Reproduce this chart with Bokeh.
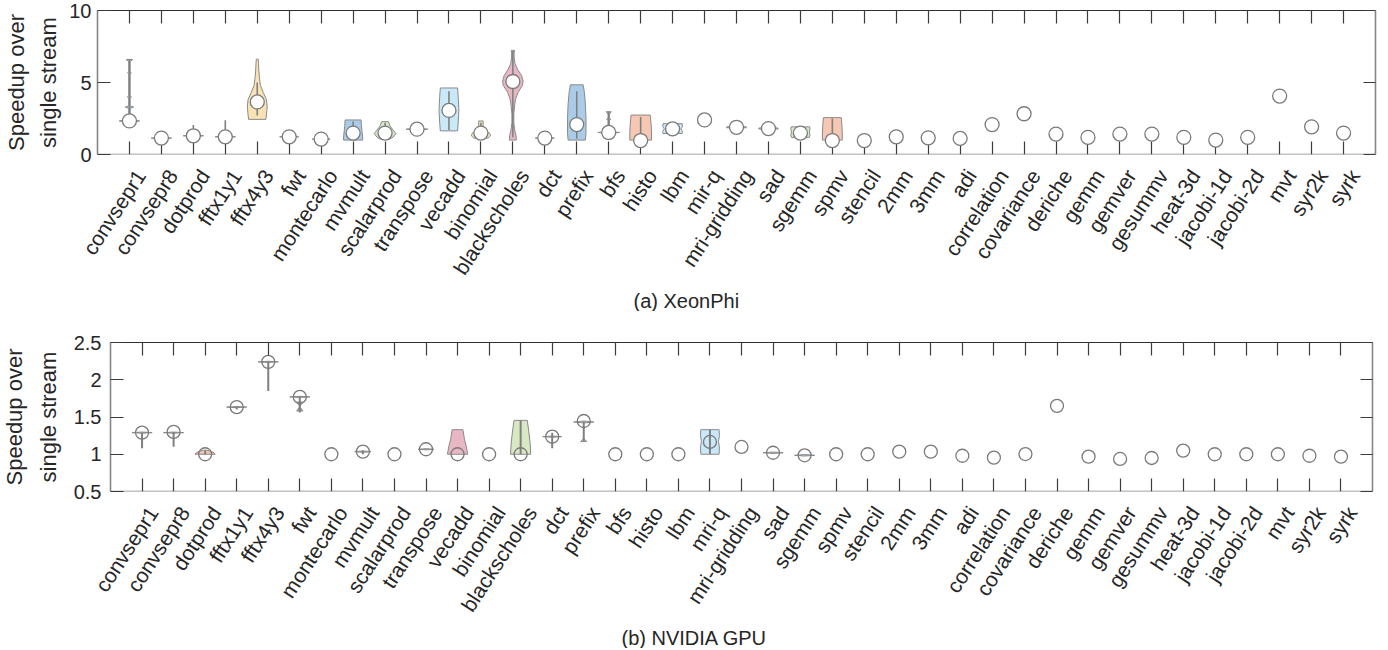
import math
from bokeh.plotting import figure
from bokeh.models import Range1d, FixedTicker, LinearAxis, Title, ColumnDataSource, AllLabels
from bokeh.embed import file_html
from bokeh.resources import INLINE

FONT = "Liberation Sans"

# ---------------- categories ----------------
CATS_A = ["convsepr1", "convsepr8", "dotprod", "fftx1y1", "fftx4y3", "fwt", "montecarlo",
          "mvmult", "scalarprod", "transpose", "vecadd", "binomial", "blackscholes", "dct",
          "prefix", "bfs", "histo", "lbm", "mir-q", "mri-gridding", "sad", "sgemm", "spmv",
          "stencil", "2mm", "3mm", "adi", "correlation", "covariance", "deriche", "gemm",
          "gemver", "gesummv", "heat-3d", "jacobi-1d", "jacobi-2d", "mvt", "syr2k", "syrk"]
CATS_B = ["convsepr1", "convsepr8", "dotprod", "fftx1y1", "fftx4y3", "fwt", "montecarlo",
          "mvmult", "scalarprod", "transpose", "vecadd", "binomial", "blackscholes", "dct",
          "prefix", "bfs", "histo", "lbm", "mri-q", "mri-gridding", "sad", "sgemm", "spmv",
          "stencil", "2mm", "3mm", "adi", "correlation", "covariance", "deriche", "gemm",
          "gemver", "gesummv", "heat-3d", "jacobi-1d", "jacobi-2d", "mvt", "syr2k", "syrk"]

# ---------------- medians (circles) ----------------
MEDIAN_A = [2.33, 1.14, 1.30, 1.23, 3.65, 1.23, 1.07, 1.49, 1.49, 1.76, 3.06, 1.49, 5.07,
            1.14, 2.08, 1.53, 0.97, 1.78, 2.40, 1.89, 1.80, 1.49, 0.97, 0.97, 1.23, 1.16,
            1.12, 2.08, 2.83, 1.42, 1.19, 1.42, 1.42, 1.19, 1.00, 1.19, 4.06, 1.92, 1.49]
MEDIAN_B = [1.29, 1.30, 1.00, 1.633, 2.24, 1.77, 1.00, 1.035, 1.00, 1.067, 1.00, 1.00, 1.00,
            1.236, 1.446, 1.00, 1.00, 1.00, 1.165, 1.098, 1.02, 0.986, 1.00, 1.00, 1.035,
            1.035, 0.98, 0.954, 1.003, 1.65, 0.968, 0.937, 0.95, 1.048, 1.00, 1.00, 1.00,
            0.98, 0.968]

YTICKS_A = [0, 5, 10]
YTICK_LABELS_A = ["0", "5", "10"]
YTICKS_B = [0.5, 1, 1.5, 2, 2.5]
YTICK_LABELS_B = ["0.5", "1", "1.5", "2", "2.5"]
YLABEL_LINES = ["Speedup over", "single stream"]

# ---------------- colours ----------------
BLUE = "#abcce9"
CYAN = "#c9e8f8"
YELLOW = "#f9e3b4"
PINK = "#e9b7c3"
SALMON = "#f6c7b3"
GREEN = "#d7e8c3"
VIOLET = "#dcbde2"
GREY = "#b5b5b5"

# ---------------- violin profiles, panel (a): y levels and half widths ----------------
A_CONVSEPR1_Y = [2.22, 2.33, 2.44, 2.7, 3.2, 3.29, 3.38, 3.9, 4.0, 4.1, 5.6, 5.68, 5.76, 6.45, 6.6]
A_CONVSEPR1_W = [0.0, 0.32, 0.0, 0.02, 0.02, 0.13, 0.02, 0.02, 0.06, 0.02, 0.02, 0.06, 0.02, 0.02, 0.1]
A_CONVSEPR8_Y = [1.09, 1.14, 1.19]
A_CONVSEPR8_W = [0.0, 0.32, 0.0]
A_DOTPROD_Y = [1.20, 1.30, 1.40]
A_DOTPROD_W = [0.0, 0.32, 0.0]
A_FFTX1Y1_Y = [1.14, 1.23, 1.32]
A_FFTX1Y1_W = [0.0, 0.32, 0.0]
A_FFTX4Y3_Y = [2.44, 2.8, 3.3, 3.8, 4.3, 4.8, 5.3, 5.8, 6.3, 6.62]
A_FFTX4Y3_W = [0.27, 0.29, 0.31, 0.29, 0.19, 0.10, 0.07, 0.05, 0.04, 0.03]
A_FWT_Y = [1.18, 1.23, 1.28]
A_FWT_W = [0.0, 0.30, 0.0]
A_MONTECARLO_Y = [1.02, 1.07, 1.12]
A_MONTECARLO_W = [0.0, 0.28, 0.0]
A_MVMULT_Y = [1.0, 1.2, 1.6, 2.0, 2.4]
A_MVMULT_W = [0.30, 0.30, 0.28, 0.26, 0.25]
A_SCALARPROD_Y = [1.07, 1.2, 1.45, 1.7, 2.0, 2.28]
A_SCALARPROD_W = [0.15, 0.25, 0.34, 0.25, 0.15, 0.11]
A_TRANSPOSE_Y = [1.68, 1.76, 1.84]
A_TRANSPOSE_W = [0.0, 0.34, 0.0]
A_VECADD_Y = [1.64, 2.2, 3.1, 4.0, 4.62]
A_VECADD_W = [0.27, 0.29, 0.31, 0.29, 0.27]
A_BINOMIAL_Y = [1.14, 1.3, 1.45, 1.7, 1.87, 2.0, 2.33]
A_BINOMIAL_W = [0.22, 0.30, 0.28, 0.15, 0.08, 0.07, 0.07]
A_BLACKSCHOLES_Y = [1.0, 1.3, 1.7, 2.2, 2.8, 3.3, 3.8, 4.3, 4.8, 5.1, 5.5, 5.9, 6.3, 6.7, 7.0, 7.23]
A_BLACKSCHOLES_W = [0.11, 0.10, 0.06, 0.03, 0.03, 0.05, 0.08, 0.16, 0.30, 0.32, 0.27, 0.15, 0.07, 0.04, 0.04, 0.05]
A_DCT_Y = [1.09, 1.14, 1.19]
A_DCT_W = [0.0, 0.30, 0.0]
A_PREFIX_Y = [1.0, 1.5, 2.5, 3.5, 4.3, 4.84]
A_PREFIX_W = [0.27, 0.29, 0.29, 0.27, 0.24, 0.20]
A_BFS_Y = [1.46, 1.53, 1.6, 1.9, 2.0, 2.1, 2.35, 2.45, 2.55, 2.8, 2.9, 2.97]
A_BFS_W = [0.0, 0.34, 0.02, 0.02, 0.06, 0.02, 0.02, 0.06, 0.02, 0.02, 0.06, 0.08]
A_HISTO_Y = [1.0, 1.5, 2.0, 2.5, 2.74]
A_HISTO_W = [0.34, 0.34, 0.33, 0.31, 0.30]
A_LBM_Y = [1.46, 1.6, 1.78, 1.95, 2.14]
A_LBM_W = [0.30, 0.31, 0.26, 0.31, 0.30]
A_MRIGRID_Y = [1.83, 1.86, 1.92, 1.95]
A_MRIGRID_W = [0.05, 0.31, 0.31, 0.05]
A_SAD_Y = [1.74, 1.77, 1.84, 1.87]
A_SAD_W = [0.05, 0.30, 0.30, 0.05]
A_SGEMM_Y = [1.19, 1.35, 1.55, 1.75, 1.92]
A_SGEMM_W = [0.28, 0.30, 0.28, 0.30, 0.29]
A_SPMV_Y = [1.0, 1.5, 2.0, 2.56]
A_SPMV_W = [0.31, 0.31, 0.30, 0.28]

VIOLINS_A = [
    ("convsepr1", BLUE, A_CONVSEPR1_Y, A_CONVSEPR1_W),
    ("convsepr8", GREY, A_CONVSEPR8_Y, A_CONVSEPR8_W),
    ("dotprod", SALMON, A_DOTPROD_Y, A_DOTPROD_W),
    ("fftx1y1", BLUE, A_FFTX1Y1_Y, A_FFTX1Y1_W),
    ("fftx4y3", YELLOW, A_FFTX4Y3_Y, A_FFTX4Y3_W),
    ("fwt", GREY, A_FWT_Y, A_FWT_W),
    ("montecarlo", GREY, A_MONTECARLO_Y, A_MONTECARLO_W),
    ("mvmult", BLUE, A_MVMULT_Y, A_MVMULT_W),
    ("scalarprod", GREEN, A_SCALARPROD_Y, A_SCALARPROD_W),
    ("transpose", CYAN, A_TRANSPOSE_Y, A_TRANSPOSE_W),
    ("vecadd", CYAN, A_VECADD_Y, A_VECADD_W),
    ("binomial", YELLOW, A_BINOMIAL_Y, A_BINOMIAL_W),
    ("blackscholes", PINK, A_BLACKSCHOLES_Y, A_BLACKSCHOLES_W),
    ("dct", GREY, A_DCT_Y, A_DCT_W),
    ("prefix", BLUE, A_PREFIX_Y, A_PREFIX_W),
    ("bfs", GREY, A_BFS_Y, A_BFS_W),
    ("histo", SALMON, A_HISTO_Y, A_HISTO_W),
    ("lbm", CYAN, A_LBM_Y, A_LBM_W),
    ("mri-gridding", VIOLET, A_MRIGRID_Y, A_MRIGRID_W),
    ("sad", BLUE, A_SAD_Y, A_SAD_W),
    ("sgemm", GREEN, A_SGEMM_Y, A_SGEMM_W),
    ("spmv", SALMON, A_SPMV_Y, A_SPMV_W),
]

WHISK_A_CAT = ["convsepr1", "dotprod", "fftx1y1", "fftx4y3", "montecarlo", "mvmult", "scalarprod",
               "vecadd", "binomial", "blackscholes", "prefix", "bfs", "histo", "sgemm", "spmv"]
WHISK_A_LO = [2.33, 1.0, 0.96, 2.7, 1.0, 1.1, 1.2, 1.7, 1.3, 1.2, 1.1, 1.3, 1.0, 1.25, 1.0]
WHISK_A_HI = [6.6, 2.05, 2.37, 5.0, 1.53, 2.3, 2.2, 4.4, 2.2, 7.2, 4.4, 2.97, 2.6, 1.6, 2.5]

# ---------------- violin profiles, panel (b) ----------------
B_CONVSEPR1_Y = [1.282, 1.29, 1.298]
B_CONVSEPR1_W = [0.0, 0.32, 0.0]
B_CONVSEPR8_Y = [1.282, 1.29, 1.298]
B_CONVSEPR8_W = [0.0, 0.32, 0.0]
B_DOTPROD_Y = [1.0, 1.02, 1.04, 1.055]
B_DOTPROD_W = [0.32, 0.28, 0.18, 0.05]
B_FFTX1Y1_Y = [1.625, 1.633, 1.641]
B_FFTX1Y1_W = [0.0, 0.32, 0.0]
B_FFTX4Y3_Y = [2.232, 2.24, 2.248]
B_FFTX4Y3_W = [0.0, 0.32, 0.0]
B_FWT_Y = [1.762, 1.77, 1.778]
B_FWT_W = [0.0, 0.32, 0.0]
B_FWT2_Y = [1.58, 1.64, 1.70]
B_FWT2_W = [0.10, 0.0, 0.10]
B_MVMULT_Y = [1.025, 1.035, 1.045]
B_MVMULT_W = [0.0, 0.26, 0.0]
B_TRANSPOSE_Y = [1.059, 1.067, 1.075]
B_TRANSPOSE_W = [0.0, 0.25, 0.0]
B_VECADD_Y = [1.0, 1.1, 1.2, 1.33]
B_VECADD_W = [0.32, 0.28, 0.22, 0.17]
B_BLACKSCHOLES_Y = [1.0, 1.15, 1.3, 1.455]
B_BLACKSCHOLES_W = [0.32, 0.30, 0.26, 0.21]
B_DCT_Y = [1.228, 1.236, 1.244]
B_DCT_W = [0.0, 0.30, 0.0]
B_PREFIX_Y = [1.42, 1.433, 1.446]
B_PREFIX_W = [0.0, 0.32, 0.0]
B_PREFIX2_Y = [1.17, 1.21]
B_PREFIX2_W = [0.10, 0.0]
B_MRIQ_Y = [1.0, 1.1, 1.17, 1.25, 1.33]
B_MRIQ_W = [0.29, 0.30, 0.27, 0.30, 0.29]
B_SAD_Y = [1.01, 1.02, 1.03]
B_SAD_W = [0.0, 0.32, 0.0]
B_SGEMM_Y = [0.976, 0.986, 0.996]
B_SGEMM_W = [0.0, 0.32, 0.0]

VIOLINS_B = [
    ("convsepr1", GREY, B_CONVSEPR1_Y, B_CONVSEPR1_W),
    ("convsepr8", GREY, B_CONVSEPR8_Y, B_CONVSEPR8_W),
    ("dotprod", SALMON, B_DOTPROD_Y, B_DOTPROD_W),
    ("fftx1y1", GREY, B_FFTX1Y1_Y, B_FFTX1Y1_W),
    ("fftx4y3", GREY, B_FFTX4Y3_Y, B_FFTX4Y3_W),
    ("fwt", GREY, B_FWT_Y, B_FWT_W),
    ("fwt", GREY, B_FWT2_Y, B_FWT2_W),
    ("mvmult", VIOLET, B_MVMULT_Y, B_MVMULT_W),
    ("transpose", GREY, B_TRANSPOSE_Y, B_TRANSPOSE_W),
    ("vecadd", PINK, B_VECADD_Y, B_VECADD_W),
    ("blackscholes", GREEN, B_BLACKSCHOLES_Y, B_BLACKSCHOLES_W),
    ("dct", GREY, B_DCT_Y, B_DCT_W),
    ("prefix", CYAN, B_PREFIX_Y, B_PREFIX_W),
    ("prefix", CYAN, B_PREFIX2_Y, B_PREFIX2_W),
    ("mri-q", CYAN, B_MRIQ_Y, B_MRIQ_W),
    ("sad", VIOLET, B_SAD_Y, B_SAD_W),
    ("sgemm", BLUE, B_SGEMM_Y, B_SGEMM_W),
]

WHISK_B_CAT = ["convsepr1", "convsepr8", "fftx1y1", "fftx4y3", "fwt", "mvmult", "dotprod", "dct",
               "prefix", "mri-q", "blackscholes"]
WHISK_B_LO = [1.08, 1.10, 1.60, 1.85, 1.56, 1.0, 1.0, 1.08, 1.17, 1.0, 1.0]
WHISK_B_HI = [1.29, 1.30, 1.633, 2.24, 1.77, 1.05, 1.05, 1.29, 1.44, 1.33, 1.455]

LABEL_SHIFT = 0.35
LABEL_ANGLE = math.radians(57)


def hide_labels(ax, ticks):
    ax.major_label_overrides = {t: "" for t in ticks}
    ax.major_label_text_font_size = "0px"
    ax.major_label_standoff = 0


def tick_style(ax, tick_in, color, width, level):
    ax.major_tick_in = tick_in
    ax.major_tick_out = 0
    ax.minor_tick_line_color = None
    ax.major_tick_line_color = "#3c3c3c"
    ax.major_tick_line_width = 1.2
    ax.axis_line_color = color
    ax.axis_line_width = width
    ax.level = level


def build(cats, med, violins, wcat, wlo, whi, yr, yticks, ylabels, title_text,
          frame_w, frame_h, b_left, b_right, b_top, title_offset, csize, cfill, wwidth,
          ytick_standoff, gap_inner, gap_outer):
    n = len(cats)
    xpos = list(range(1, n + 1))
    idx = {c: i + 1 for i, c in enumerate(cats)}
    p = figure(frame_width=frame_w, frame_height=frame_h,
               x_range=Range1d(0, n + 1), y_range=Range1d(*yr),
               x_axis_type=None, y_axis_type=None,
               output_backend="svg", toolbar_location=None,
               min_border_left=b_left, min_border_right=b_right, min_border_top=b_top,
               min_border_bottom=0, outline_line_color=None)
    p.extra_x_ranges = {"lab": Range1d(-LABEL_SHIFT, n + 1 - LABEL_SHIFT)}

    pxs, pys, pcols = [], [], []
    for name, col, ys, ws in violins:
        i = idx[name]
        pxs.append([i - w for w in ws] + [i + w for w in ws[::-1]])
        pys.append(list(ys) + list(ys[::-1]))
        pcols.append(col)
    p.patches(xs="xs", ys="ys", fill_color="col", line_color="#8a8a8a", line_width=1,
              source=ColumnDataSource(dict(xs=pxs, ys=pys, col=pcols)))

    wx = [idx[c] for c in wcat]
    p.segment(x0=wx, y0=wlo, x1=wx, y1=whi, line_color="#808080", line_width=wwidth)
    p.scatter(xpos, med, size=csize, fill_color=cfill, line_color="#7a7a7a", line_width=1.3)

    yt = FixedTicker(ticks=yticks)
    xt = FixedTicker(ticks=xpos)

    left = LinearAxis(ticker=yt)
    tick_style(left, 13, "#858585", 1.6, "guide")
    left.major_label_overrides = {t: l for t, l in zip(yticks, ylabels)}
    left.major_label_text_font = FONT
    left.major_label_text_font_size = "20px"
    left.major_label_text_color = "#262626"
    left.major_label_standoff = ytick_standoff
    p.add_layout(left, "left")

    # two-line y-axis label (inner line first, nearest the frame)
    for line, gap in ((YLABEL_LINES[1], gap_inner), (YLABEL_LINES[0], gap_outer)):
        yl = Title(text=line, align="center", standoff=gap, text_font=FONT,
                   text_font_size="22px", text_font_style="normal", text_color="#262626")
        p.add_layout(yl, "left")

    right = LinearAxis(ticker=yt)
    tick_style(right, 12, "#858585", 1.6, "guide")
    hide_labels(right, yticks)
    p.add_layout(right, "right")

    top = LinearAxis(ticker=xt)
    tick_style(top, 13, "#303030", 1.2, "guide")
    hide_labels(top, xpos)
    p.add_layout(top, "above")

    bottom = LinearAxis(ticker=xt)
    tick_style(bottom, 13, "#858585", 1.6, "underlay")
    hide_labels(bottom, xpos)
    p.add_layout(bottom, "below")

    lab = LinearAxis(ticker=xt, x_range_name="lab")
    lab.axis_line_color = None
    lab.major_tick_line_color = None
    lab.minor_tick_line_color = None
    lab.major_tick_in = 0
    lab.major_tick_out = 0
    lab.major_label_overrides = {i: c for i, c in zip(xpos, cats)}
    lab.major_label_orientation = LABEL_ANGLE
    lab.major_label_policy = AllLabels()
    lab.major_label_text_font = FONT
    lab.major_label_text_font_size = "21px"
    lab.major_label_text_color = "#262626"
    lab.major_label_standoff = 17
    p.add_layout(lab, "below")

    t = Title(text=title_text, align="left", offset=title_offset, standoff=0,
              text_font=FONT, text_font_size="20px", text_font_style="normal",
              text_color="#262626")
    p.add_layout(t, "below")
    return p


pa = build(CATS_A, MEDIAN_A, VIOLINS_A, WHISK_A_CAT, WHISK_A_LO, WHISK_A_HI,
           (0, 10), YTICKS_A, YTICK_LABELS_A, "(a) XeonPhi",
           1278, 144, 97, 12, 10, 536, 14, "white", 1.6, 6, 11, 0)
pb = build(CATS_B, MEDIAN_B, VIOLINS_B, WHISK_B_CAT, WHISK_B_LO, WHISK_B_HI,
           (0.5, 2.5), YTICKS_B, YTICK_LABELS_B, "(b) NVIDIA GPU",
           1262, 149, 110, 15, 31, 511, 13, None, 2.0, 9, 20, -6)

# two independent roots, stacked on the page (no frame alignment between them)
open("out.html", "w").write(file_html([pa, pb], INLINE))
